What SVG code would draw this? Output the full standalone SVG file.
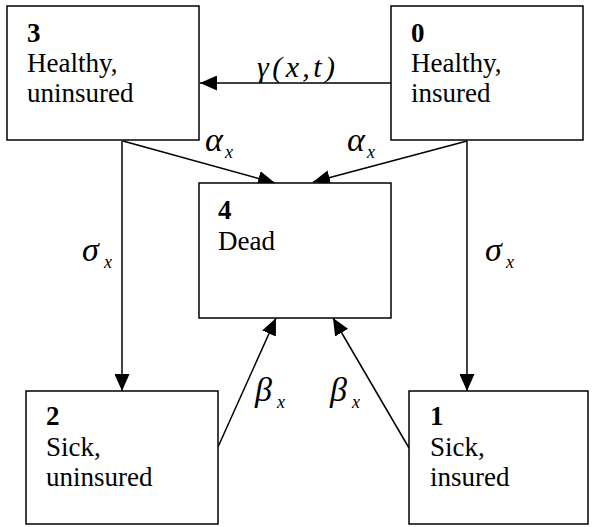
<svg xmlns="http://www.w3.org/2000/svg" width="595" height="527" viewBox="0 0 595 527">
<defs>
<marker id="ah" markerUnits="userSpaceOnUse" markerWidth="18" markerHeight="15" refX="17" refY="7.5" orient="auto">
<path d="M0,0 L17,7.5 L0,15 z" fill="#000"/>
</marker>
</defs>
<rect width="595" height="527" fill="#fff"/>
<g id="connectors" stroke="#000" stroke-width="1.5" fill="none" marker-end="url(#ah)">
<line x1="391" y1="83" x2="200" y2="83"/>
<line x1="123" y1="141" x2="275" y2="183"/>
<line x1="467" y1="141" x2="313" y2="182"/>
<line x1="122" y1="141" x2="122" y2="391"/>
<line x1="467" y1="141" x2="467" y2="391"/>
<line x1="218" y1="447" x2="276" y2="318"/>
<line x1="409" y1="448" x2="333" y2="318"/>
</g>
<g id="labels" fill="#000">
<text x="257" y="77" font-family="'Liberation Serif', serif" font-style="italic" font-size="30" textLength="78" lengthAdjust="spacing">γ(x,t)</text>
<text x="205" y="151" font-family="'Liberation Serif', serif" font-style="italic" font-size="34">α</text>
<text x="225" y="158" font-family="'Liberation Serif', serif" font-style="italic" font-size="18">x</text>
<text x="347" y="151" font-family="'Liberation Serif', serif" font-style="italic" font-size="34">α</text>
<text x="367" y="158" font-family="'Liberation Serif', serif" font-style="italic" font-size="18">x</text>
<text x="82" y="261" font-family="'Liberation Serif', serif" font-style="italic" font-size="34">σ</text>
<text x="104" y="268" font-family="'Liberation Serif', serif" font-style="italic" font-size="18">x</text>
<text x="485" y="261" font-family="'Liberation Serif', serif" font-style="italic" font-size="34">σ</text>
<text x="506" y="268" font-family="'Liberation Serif', serif" font-style="italic" font-size="18">x</text>
<text x="255" y="401" font-family="'Liberation Serif', serif" font-style="italic" font-size="34">β</text>
<text x="277" y="408" font-family="'Liberation Serif', serif" font-style="italic" font-size="18">x</text>
<text x="330" y="401" font-family="'Liberation Serif', serif" font-style="italic" font-size="34">β</text>
<text x="352" y="408" font-family="'Liberation Serif', serif" font-style="italic" font-size="18">x</text>
</g>
<g id="node3">
<rect x="7" y="6" width="192" height="134" fill="#fff" stroke="#000" stroke-width="1.5"/>
<text x="27" y="42" font-family="'Liberation Serif', serif" font-size="27" font-weight="bold">3</text>
<text x="27" y="72" font-family="'Liberation Serif', serif" font-size="27">Healthy,</text>
<text x="27" y="102" font-family="'Liberation Serif', serif" font-size="27">uninsured</text>
</g>
<g id="node0">
<rect x="391" y="6" width="192" height="134" fill="#fff" stroke="#000" stroke-width="1.5"/>
<text x="411" y="42" font-family="'Liberation Serif', serif" font-size="27" font-weight="bold">0</text>
<text x="411" y="72" font-family="'Liberation Serif', serif" font-size="27">Healthy,</text>
<text x="411" y="102" font-family="'Liberation Serif', serif" font-size="27">insured</text>
</g>
<g id="node4">
<rect x="199" y="183" width="192" height="135" fill="#fff" stroke="#000" stroke-width="1.5"/>
<text x="218" y="219" font-family="'Liberation Serif', serif" font-size="27" font-weight="bold">4</text>
<text x="218" y="250" font-family="'Liberation Serif', serif" font-size="27">Dead</text>
</g>
<g id="node2">
<rect x="26" y="391" width="192" height="133" fill="#fff" stroke="#000" stroke-width="1.5"/>
<text x="46" y="425" font-family="'Liberation Serif', serif" font-size="27" font-weight="bold">2</text>
<text x="46" y="456" font-family="'Liberation Serif', serif" font-size="27">Sick,</text>
<text x="46" y="486" font-family="'Liberation Serif', serif" font-size="27">uninsured</text>
</g>
<g id="node1">
<rect x="409" y="391" width="179" height="133" fill="#fff" stroke="#000" stroke-width="1.5"/>
<text x="430" y="425" font-family="'Liberation Serif', serif" font-size="27" font-weight="bold">1</text>
<text x="430" y="456" font-family="'Liberation Serif', serif" font-size="27">Sick,</text>
<text x="430" y="486" font-family="'Liberation Serif', serif" font-size="27">insured</text>
</g>
</svg>
